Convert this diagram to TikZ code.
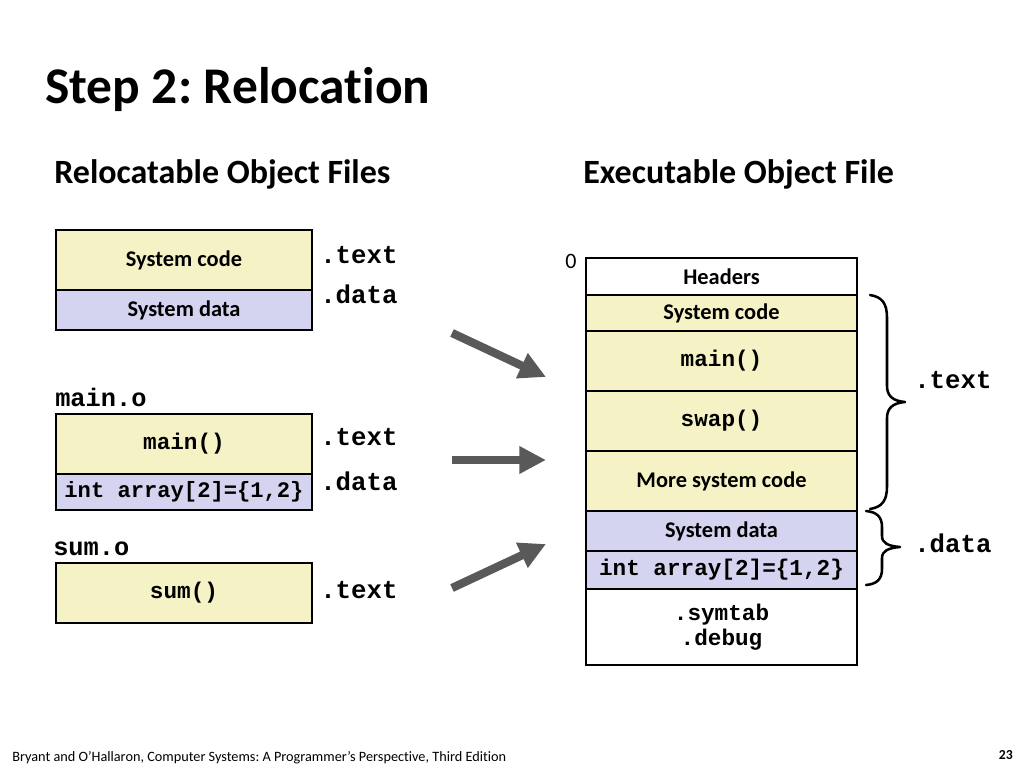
\documentclass[tikz,border=0pt]{standalone}
\usepackage{fontspec}
\setmainfont{Carlito}[Ligatures=NoCommon]
\newfontfamily\monof{Liberation Mono}
\usetikzlibrary{arrows.meta}
\definecolor{ylw}{RGB}{245,243,197}
\definecolor{lav}{RGB}{212,212,240}
\definecolor{arrg}{RGB}{89,89,89}
\frenchspacing
\begin{document}
\begin{tikzpicture}[x=0.75pt,y=-0.75pt,
  box/.style={draw=black, line width=1.9pt, anchor=north west, inner sep=0pt, outer sep=0pt,
    font=\fontsize{16.8}{20}\selectfont\bfseries},
  lbox/.style={box, minimum width=192pt},
  rbox/.style={box, minimum width=203.25pt},
  code/.style={font=\fontsize{17}{20}\monof\bfseries},
  seclab/.style={anchor=base west, inner sep=0pt, font=\fontsize{19.3}{22}\monof\bfseries},
  filelab/.style={anchor=base west, inner sep=0pt, font=\fontsize{19}{22}\monof\bfseries},
  bigarrow/.style={draw=arrg, line width=6.2pt, -{Triangle[length=20pt,width=19.5pt]}},
  bracestyle/.style={draw=black, line width=1.9pt, line cap=round, line join=round}
]
\useasboundingbox[fill=white] (0,0) rectangle (1024,768);

% titles
\node[anchor=base west, inner sep=0pt, font=\fontsize{38.6}{44}\selectfont\bfseries] (title) at (45,103) {Step 2: Relocation};
\node[anchor=base west, inner sep=0pt, font=\fontsize{25.5}{30}\selectfont\bfseries] (subl) at (54,183) {Relocatable Object Files};
\node[anchor=base west, inner sep=0pt, font=\fontsize{25.5}{30}\selectfont\bfseries] (subr) at (583,183) {Executable Object File};

% left: system
\node[lbox, fill=ylw, minimum height=45pt] (lsc) at (56,230) {System code};
\node[lbox, fill=lav, minimum height=30pt] (lsd) at (56,290) {System data};
\node[seclab] (lt1) at (320,263) {.text};
\node[seclab] (ld1) at (320,303) {.data};

% main.o
\node[filelab] (mo) at (55,406) {main.o};
\node[lbox, fill=ylw, minimum height=45pt, code] (lmain) at (56,414) {main()};
\node[lbox, fill=lav, minimum height=27pt, code, font=\fontsize{16.6}{20}\monof\bfseries] (larr) at (56,474) {int array[2]=\{1,2\}};
\node[seclab] (lt2) at (320,445) {.text};
\node[seclab] (ld2) at (320,490) {.data};

% sum.o
\node[filelab] (so) at (53,555) {sum.o};
\node[lbox, fill=ylw, minimum height=45pt, code] (lsum) at (56,563) {sum()};
\node[seclab] (lt3) at (320,598) {.text};

% arrows
\coordinate (a1s) at (452,333); \coordinate (a1e) at (546,377);
\coordinate (a2s) at (452,460); \coordinate (a2e) at (546,460);
\coordinate (a3s) at (452,588); \coordinate (a3e) at (546,544);
\draw[bigarrow] (a1s) -- (a1e);
\draw[bigarrow] (a2s) -- (a2e);
\draw[bigarrow] (a3s) -- (a3e);

% right: executable
\node[inner sep=0pt, font=\fontsize{16.5}{20}\selectfont] (zero) at (571,261) {0};
\node[rbox, fill=white, minimum height=27.75pt] (rh) at (586,258) {Headers};
\node[rbox, fill=ylw, minimum height=27pt] (rsc) at (586,295) {System code};
\node[rbox, fill=ylw, minimum height=45pt, code] (rmain) at (586,331) {main()};
\node[rbox, fill=ylw, minimum height=45pt, code] (rswap) at (586,391) {swap()};
\node[rbox, fill=ylw, minimum height=45pt] (rmore) at (586,451) {More system code};
\node[rbox, fill=lav, minimum height=30pt] (rsd) at (586,511) {System data};
\node[rbox, fill=lav, minimum height=28.5pt, code] (rarr) at (586,551) {int array[2]=\{1,2\}};
\node[rbox, fill=white, minimum height=57pt, code, align=center] (rsym) at (586,589) {.symtab\\[-1pt].debug};

% braces
\draw[bracestyle] (870,295) .. controls (882,297) and (887,303) .. (887,318)
  -- (887,386) .. controls (887,396) and (893,401) .. (905,402)
  .. controls (893,403) and (887,408) .. (887,418)
  -- (887,486) .. controls (887,501) and (882,507) .. (870,509);
\draw[bracestyle] (866,511) .. controls (877,512) and (882,517) .. (882,527)
  -- (882,536) .. controls (882,543) and (888,546) .. (900,547)
  .. controls (888,548) and (882,551) .. (882,558)
  -- (882,569) .. controls (882,579) and (877,584) .. (866,585);
\node[seclab] (rt) at (914,388) {.text};
\node[seclab] (rd) at (914,552) {.data};

% footer
\node[anchor=base west, inner sep=0pt, font=\fontsize{10.7}{12}\selectfont] (foot) at (12,761) {Bryant and O’Hallaron, Computer Systems: A Programmer’s Perspective, Third Edition};
\node[anchor=base east, inner sep=0pt, font=\fontsize{10.3}{12}\selectfont\bfseries] (pg) at (1013,759) {23};
\end{tikzpicture}
\end{document}
